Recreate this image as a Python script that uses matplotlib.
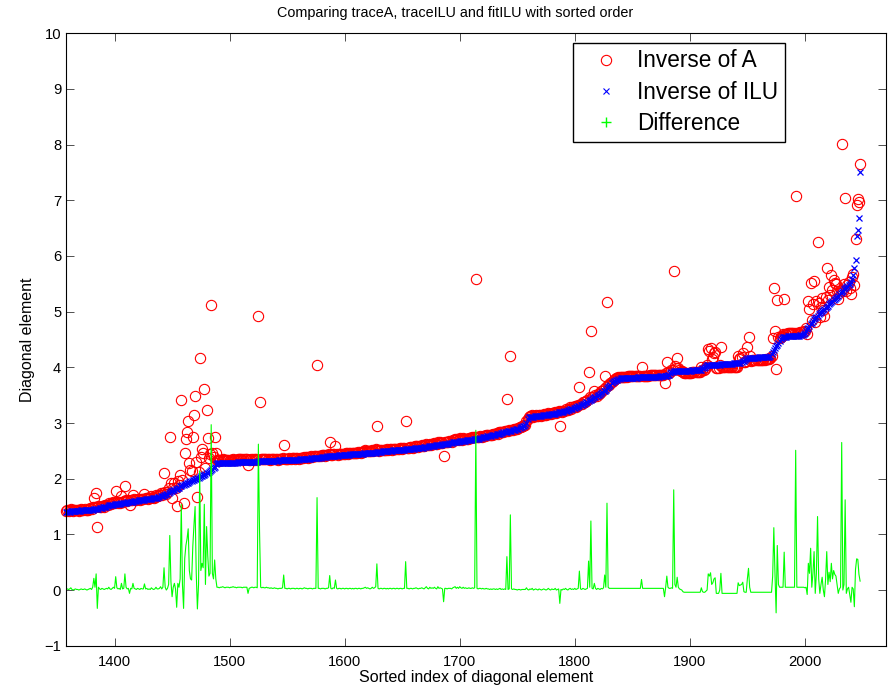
import numpy as np
import matplotlib
matplotlib.use('Agg')
import matplotlib.pyplot as plt
from matplotlib.lines import Line2D

plt.rcParams['font.family'] = ['Liberation Sans', 'DejaVu Sans']

# sorted index of the first diagonal element shown
first_index = 1358

# diagonal of inv(ILU), sorted, one value per index
inv_ilu = [
    1.41, 1.41, 1.41, 1.41, 1.42, 1.42, 1.42, 1.42, 1.42, 1.42,
    1.42, 1.42, 1.42, 1.43, 1.43, 1.43, 1.43, 1.43, 1.43, 1.43,
    1.44, 1.44, 1.44, 1.44, 1.45, 1.45, 1.45, 1.46, 1.46, 1.47,
    1.48, 1.48, 1.49, 1.49, 1.50, 1.50, 1.51, 1.52, 1.52, 1.53,
    1.53, 1.53, 1.54, 1.54, 1.54, 1.55, 1.55, 1.55, 1.56, 1.56,
    1.57, 1.57, 1.57, 1.58, 1.58, 1.58, 1.59, 1.59, 1.59, 1.60,
    1.60, 1.60, 1.60, 1.61, 1.61, 1.61, 1.62, 1.62, 1.62, 1.63,
    1.63, 1.63, 1.64, 1.64, 1.64, 1.65, 1.65, 1.65, 1.66, 1.66,
    1.67, 1.67, 1.68, 1.69, 1.69, 1.70, 1.71, 1.72, 1.73, 1.74,
    1.76, 1.77, 1.78, 1.79, 1.80, 1.81, 1.82, 1.83, 1.84, 1.86,
    1.87, 1.88, 1.89, 1.90, 1.91, 1.92, 1.93, 1.94, 1.95, 1.96,
    1.97, 1.98, 1.99, 2.00, 2.01, 2.02, 2.03, 2.04, 2.05, 2.06,
    2.07, 2.09, 2.10, 2.11, 2.12, 2.14, 2.15, 2.17, 2.19, 2.21,
    2.27, 2.28, 2.28, 2.28, 2.28, 2.28, 2.29, 2.29, 2.29, 2.29,
    2.29, 2.29, 2.29, 2.29, 2.29, 2.29, 2.29, 2.29, 2.29, 2.30,
    2.30, 2.30, 2.30, 2.30, 2.30, 2.30, 2.30, 2.30, 2.30, 2.30,
    2.30, 2.30, 2.30, 2.30, 2.30, 2.30, 2.30, 2.31, 2.31, 2.31,
    2.31, 2.31, 2.31, 2.31, 2.31, 2.31, 2.31, 2.31, 2.31, 2.32,
    2.32, 2.32, 2.32, 2.32, 2.32, 2.33, 2.33, 2.33, 2.33, 2.33,
    2.33, 2.33, 2.33, 2.33, 2.34, 2.34, 2.34, 2.34, 2.34, 2.34,
    2.34, 2.34, 2.34, 2.35, 2.35, 2.35, 2.35, 2.35, 2.36, 2.36,
    2.36, 2.36, 2.36, 2.37, 2.37, 2.37, 2.37, 2.38, 2.38, 2.38,
    2.38, 2.38, 2.39, 2.39, 2.39, 2.39, 2.39, 2.40, 2.40, 2.40,
    2.40, 2.40, 2.41, 2.41, 2.41, 2.41, 2.41, 2.42, 2.42, 2.42,
    2.42, 2.42, 2.43, 2.43, 2.43, 2.43, 2.43, 2.44, 2.44, 2.44,
    2.44, 2.44, 2.44, 2.45, 2.45, 2.45, 2.45, 2.45, 2.45, 2.46,
    2.46, 2.46, 2.46, 2.46, 2.47, 2.47, 2.47, 2.47, 2.47, 2.47,
    2.48, 2.48, 2.48, 2.48, 2.48, 2.49, 2.49, 2.49, 2.49, 2.50,
    2.50, 2.50, 2.50, 2.50, 2.51, 2.51, 2.51, 2.51, 2.51, 2.52,
    2.52, 2.52, 2.52, 2.52, 2.52, 2.53, 2.53, 2.53, 2.53, 2.54,
    2.54, 2.54, 2.54, 2.55, 2.55, 2.55, 2.55, 2.56, 2.56, 2.56,
    2.56, 2.57, 2.57, 2.57, 2.57, 2.58, 2.58, 2.58, 2.59, 2.59,
    2.59, 2.60, 2.60, 2.60, 2.61, 2.61, 2.61, 2.62, 2.62, 2.62,
    2.63, 2.63, 2.63, 2.64, 2.64, 2.64, 2.65, 2.65, 2.65, 2.66,
    2.66, 2.66, 2.67, 2.67, 2.67, 2.68, 2.68, 2.68, 2.69, 2.69,
    2.69, 2.70, 2.70, 2.70, 2.71, 2.71, 2.71, 2.72, 2.72, 2.72,
    2.73, 2.73, 2.74, 2.74, 2.75, 2.75, 2.76, 2.76, 2.77, 2.77,
    2.78, 2.78, 2.79, 2.79, 2.80, 2.80, 2.81, 2.81, 2.82, 2.82,
    2.83, 2.83, 2.84, 2.84, 2.85, 2.85, 2.86, 2.86, 2.87, 2.88,
    2.88, 2.89, 2.90, 2.90, 2.91, 2.92, 2.93, 2.94, 2.95, 2.96,
    3.00, 3.07, 3.10, 3.10, 3.11, 3.11, 3.11, 3.12, 3.12, 3.12,
    3.12, 3.13, 3.13, 3.13, 3.14, 3.14, 3.14, 3.15, 3.15, 3.15,
    3.16, 3.16, 3.16, 3.17, 3.17, 3.17, 3.18, 3.18, 3.19, 3.19,
    3.20, 3.20, 3.20, 3.21, 3.22, 3.22, 3.23, 3.24, 3.25, 3.25,
    3.26, 3.27, 3.27, 3.28, 3.29, 3.30, 3.31, 3.32, 3.33, 3.34,
    3.35, 3.36, 3.37, 3.38, 3.40, 3.41, 3.42, 3.43, 3.45, 3.46,
    3.47, 3.48, 3.50, 3.51, 3.53, 3.54, 3.55, 3.57, 3.58, 3.60,
    3.62, 3.64, 3.66, 3.68, 3.71, 3.73, 3.75, 3.76, 3.77, 3.78,
    3.79, 3.79, 3.80, 3.80, 3.80, 3.80, 3.80, 3.80, 3.81, 3.81,
    3.81, 3.81, 3.81, 3.81, 3.81, 3.81, 3.81, 3.82, 3.82, 3.82,
    3.82, 3.82, 3.82, 3.82, 3.82, 3.82, 3.82, 3.83, 3.83, 3.83,
    3.83, 3.83, 3.83, 3.83, 3.83, 3.83, 3.84, 3.84, 3.84, 3.84,
    3.84, 3.84, 3.85, 3.86, 3.87, 3.89, 3.91, 3.92, 3.93, 3.93,
    3.93, 3.93, 3.93, 3.93, 3.93, 3.94, 3.94, 3.94, 3.94, 3.94,
    3.94, 3.94, 3.94, 3.94, 3.95, 3.95, 3.95, 3.95, 3.95, 3.95,
    3.95, 3.95, 3.96, 3.98, 3.99, 4.01, 4.02, 4.04, 4.04, 4.04,
    4.04, 4.05, 4.05, 4.05, 4.05, 4.05, 4.05, 4.05, 4.05, 4.06,
    4.06, 4.06, 4.06, 4.06, 4.06, 4.06, 4.06, 4.06, 4.06, 4.06,
    4.07, 4.07, 4.07, 4.07, 4.07, 4.07, 4.08, 4.09, 4.11, 4.12,
    4.14, 4.15, 4.16, 4.16, 4.16, 4.16, 4.17, 4.17, 4.17, 4.17,
    4.17, 4.17, 4.18, 4.18, 4.18, 4.18, 4.18, 4.18, 4.19, 4.19,
    4.19, 4.19, 4.21, 4.24, 4.28, 4.31, 4.35, 4.38, 4.41, 4.44,
    4.47, 4.50, 4.52, 4.54, 4.55, 4.55, 4.55, 4.56, 4.56, 4.56,
    4.56, 4.56, 4.57, 4.57, 4.57, 4.57, 4.57, 4.57, 4.58, 4.58,
    4.58, 4.60, 4.62, 4.65, 4.68, 4.71, 4.74, 4.77, 4.80, 4.84,
    4.86, 4.88, 4.90, 4.93, 4.95, 4.97, 4.99, 5.01, 5.03, 5.05,
    5.07, 5.09, 5.11, 5.13, 5.15, 5.17, 5.19, 5.21, 5.23, 5.25,
    5.27, 5.29, 5.32, 5.34, 5.36, 5.38, 5.40, 5.42, 5.44, 5.46,
    5.48, 5.50, 5.53, 5.58, 5.65, 5.78, 5.93, 6.36, 6.47, 6.69,
    7.50,
]

# inv(A) minus inv(ILU) on the same indices
difference = [
    0.01, 0.02, 0.01, 0.02, 0.04, 0.01, 0.00, 0.01, 0.02, 0.01,
    0.01, 0.00, 0.01, 0.02, 0.01, 0.01, 0.02, 0.01, 0.00, 0.01,
    0.02, 0.03, 0.01, 0.05, 0.21, 0.05, 0.29, -0.33, 0.05, 0.02,
    0.01, 0.03, 0.02, 0.01, 0.02, 0.03, 0.02, 0.05, 0.02, 0.01,
    0.03, 0.05, 0.03, 0.24, 0.04, 0.02, 0.03, 0.01, 0.12, 0.02,
    0.03, 0.29, 0.05, 0.02, 0.03, -0.06, 0.03, 0.02, 0.12, 0.03,
    0.02, 0.01, 0.03, 0.02, 0.01, 0.03, 0.02, 0.02, 0.11, 0.02,
    0.03, 0.01, 0.02, 0.01, 0.04, 0.02, 0.01, 0.02, 0.05, 0.02,
    0.02, 0.03, 0.06, 0.02, 0.05, 0.40, 0.05, 0.00, 0.03, 0.10,
    0.98, 0.15, -0.12, 0.05, 0.12, 0.02, -0.31, 0.12, 0.05, 0.20,
    1.54, 0.10, -0.33, 0.57, 0.80, 0.92, 1.10, 0.35, 0.20, 0.18,
    0.78, 1.16, 1.50, 0.30, -0.34, 0.10, 2.14, 0.35, 0.48, 0.40,
    1.54, 0.10, 1.14, 0.62, 0.25, 0.30, 2.97, 0.30, 0.20, 0.54,
    0.20, 0.05, 0.05, 0.04, 0.05, 0.05, 0.06, 0.05, 0.04, 0.05,
    0.05, 0.05, 0.04, 0.05, 0.05, 0.06, 0.05, 0.05, 0.04, 0.05,
    0.05, 0.05, 0.05, 0.04, 0.05, 0.05, 0.05, 0.05, -0.06, 0.03,
    0.04, 0.05, 0.05, 0.04, 0.05, 0.05, 0.04, 2.62, 1.07, 0.05,
    0.04, 0.05, 0.04, 0.04, 0.05, 0.04, 0.04, 0.03, 0.04, 0.03,
    0.03, 0.04, 0.03, 0.03, 0.02, 0.03, 0.03, 0.03, 0.04, 0.27,
    0.03, 0.03, 0.02, 0.03, 0.03, 0.02, 0.03, 0.03, 0.03, 0.02,
    0.03, 0.03, 0.02, 0.03, 0.03, 0.02, 0.03, 0.04, 0.03, 0.03,
    0.02, 0.03, 0.03, 0.03, 0.02, 0.03, 0.03, 0.03, 1.66, 0.03,
    0.03, 0.02, 0.03, 0.03, 0.03, 0.02, 0.03, 0.03, 0.04, 0.26,
    0.03, 0.02, 0.04, 0.03, 0.18, 0.03, 0.02, 0.03, 0.03, 0.02,
    0.03, 0.03, 0.02, 0.03, 0.03, 0.02, 0.03, 0.03, 0.02, 0.03,
    0.02, 0.03, 0.03, 0.02, 0.03, 0.03, 0.02, 0.03, 0.03, 0.04,
    0.05, 0.03, 0.04, 0.03, 0.02, 0.03, 0.05, 0.03, 0.04, 0.06,
    0.47, 0.03, 0.02, 0.03, 0.03, 0.02, 0.03, 0.03, 0.02, 0.03,
    0.02, 0.03, 0.03, 0.02, 0.03, 0.03, 0.02, 0.03, 0.03, 0.02,
    0.03, 0.03, 0.02, 0.03, 0.03, 0.51, 0.03, 0.03, 0.02, 0.03,
    0.03, 0.02, 0.03, 0.03, 0.04, 0.03, 0.02, 0.03, 0.03, 0.04,
    0.03, 0.02, 0.04, 0.06, 0.03, 0.02, 0.05, 0.03, 0.04, 0.03,
    0.05, 0.03, 0.02, 0.06, 0.03, 0.04, 0.03, 0.02, -0.21, 0.03,
    0.03, 0.02, 0.03, 0.03, 0.03, 0.02, 0.04, 0.05, 0.06, 0.03,
    0.05, 0.03, 0.06, 0.04, 0.03, 0.05, 0.03, 0.04, 0.03, 0.03,
    0.04, 0.03, 0.03, 0.04, 0.03, 0.04, 2.87, 0.03, 0.02, 0.03,
    0.03, 0.02, 0.03, 0.02, 0.02, 0.03, 0.02, 0.02, 0.01, 0.02,
    0.01, 0.02, 0.02, 0.01, 0.02, 0.01, 0.02, 0.03, 0.01, 0.02,
    0.01, 0.02, 0.01, 0.60, 0.01, 0.02, 1.35, 0.02, 0.01, 0.02,
    0.01, 0.01, 0.00, 0.01, 0.01, 0.00, 0.01, 0.01, 0.01, 0.01,
    0.04, 0.01, 0.00, 0.02, 0.01, 0.03, 0.00, 0.01, 0.02, 0.01,
    0.00, 0.02, 0.01, 0.00, 0.01, 0.02, 0.01, 0.00, 0.01, 0.03,
    0.01, 0.00, 0.02, 0.01, 0.01, 0.03, 0.00, 0.01, 0.02, -0.24,
    0.01, 0.00, 0.02, 0.01, 0.03, 0.01, 0.00, 0.02, 0.03, 0.01,
    0.02, 0.01, 0.03, 0.01, 0.02, 0.03, 0.34, 0.02, 0.01, 0.03,
    0.02, 0.01, 0.02, 0.03, 0.52, 0.05, 1.24, 0.03, 0.02, 0.12,
    0.03, 0.01, 0.03, 0.02, 0.01, 0.03, 0.02, 0.04, 0.27, 0.05,
    1.56, 0.05, 0.03, 0.03, 0.03, 0.03, 0.03, 0.03, 0.03, 0.03,
    0.03, 0.03, 0.03, 0.03, 0.03, 0.03, 0.03, 0.03, 0.03, 0.03,
    0.03, 0.03, 0.03, 0.03, 0.03, 0.03, 0.03, 0.03, 0.03, 0.03,
    0.19, 0.03, 0.03, 0.03, 0.03, 0.03, 0.03, 0.03, 0.03, 0.03,
    0.03, 0.03, 0.03, 0.03, 0.03, 0.03, 0.03, 0.03, 0.03, 0.03,
    -0.12, 0.05, 0.25, 0.05, 0.03, 0.03, 0.04, 0.03, 1.80, 0.10,
    0.05, 0.23, 0.05, 0.02, 0.01, 0.00, -0.03, -0.04, -0.04, -0.04,
    -0.04, -0.04, -0.04, -0.04, -0.04, -0.04, -0.04, -0.04, -0.04, -0.04,
    -0.04, -0.04, 0.04, -0.03, -0.04, -0.04, -0.02, 0.00, 0.29, 0.25,
    0.31, 0.10, 0.13, 0.20, 0.22, -0.06, -0.06, -0.06, 0.00, 0.30,
    -0.06, -0.06, -0.06, -0.06, -0.06, -0.06, -0.06, -0.06, -0.06, -0.06,
    -0.06, -0.06, -0.06, -0.06, 0.13, 0.08, 0.09, 0.10, 0.14, -0.03,
    -0.04, -0.04, 0.20, 0.39, 0.05, -0.04, -0.04, -0.04, -0.04, -0.04,
    -0.04, -0.04, -0.04, -0.04, -0.04, -0.04, -0.04, -0.04, -0.04, -0.04,
    -0.04, -0.04, -0.04, -0.04, 0.25, 1.12, 0.30, -0.41, 0.80, 0.10,
    0.05, 0.05, 0.05, 0.05, 0.68, 0.05, 0.05, 0.05, 0.05, 0.05,
    0.05, 0.05, 0.05, 0.05, 2.51, 0.05, 0.05, 0.05, 0.05, 0.05,
    0.05, 0.05, 0.04, 0.05, -0.08, 0.48, 0.30, 0.75, 0.05, 0.30,
    0.69, -0.06, 0.30, 1.32, 0.20, -0.06, 0.10, 0.23, 0.00, -0.12,
    0.20, 0.69, 0.10, 0.32, 0.15, 0.48, 0.20, 0.35, 0.28, 0.25,
    0.10, -0.06, 0.02, 0.05, 2.65, 0.00, 0.10, 1.62, -0.06, 0.02,
    0.05, -0.08, -0.22, 0.05, 0.02, -0.30, 0.37, 0.56, 0.55, 0.28,
    0.16,
]

x_ticks = [1400, 1500, 1600, 1700, 1800, 1900, 2000]
y_ticks = list(range(-1, 11))

ilu = np.array(inv_ilu)
diff = np.array(difference)
inv_a = ilu + diff
idx = np.arange(first_index, first_index + len(ilu))

fig = plt.figure(figsize=(8.9, 6.89), dpi=100)
ax = fig.add_axes([66 / 890, 43.3 / 689, 820 / 890, 612.4 / 689])

ax.plot(idx, inv_a, ls='none', marker='o', ms=7.4, mfc='none', mec='#ff0000',
        mew=0.8, clip_on=False)
ax.plot(idx, ilu, ls='none', marker='x', ms=5.0, color='#0000ff', mew=0.9,
        clip_on=False)
ax.plot(idx, diff, color='#00ff00', lw=0.8)

ax.set_xlim(1357.8, 2070.5)
ax.set_ylim(-1, 10)
ax.set_xticks(x_ticks)
ax.set_yticks(y_ticks)
ax.tick_params(direction='in', top=True, right=True, length=6, width=0.6,
               labelsize=10.6, color='#333333')
ax.tick_params(axis='x', pad=6.5)
ax.tick_params(axis='y', pad=3.5)
for s in ax.spines.values():
    s.set_linewidth(0.8)

ax.set_xlabel('Sorted index of diagonal element', fontsize=11.5, labelpad=1)
ax.set_ylabel('Diagonal element', fontsize=11.5, labelpad=7)
fig.text(277 / 890, 1 - 13 / 689, 'Comparing traceA, traceILU and fitILU with sorted order',
         ha='left', va='center', fontsize=10.4)

handles = [
    Line2D([], [], ls='none', marker='o', ms=7.4, mfc='none', mec='#ff0000', mew=0.8),
    Line2D([], [], ls='none', marker='x', ms=5, color='#0000ff', mew=0.8),
    Line2D([], [], ls='none', marker='+', ms=7, color='#00ff00', mew=1.0),
]
leg = ax.legend(handles, ['Inverse of A', 'Inverse of ILU', 'Difference'],
                loc='upper left', bbox_to_anchor=(572.7 / 890, 1 - 42.7 / 689),
                bbox_transform=fig.transFigure, borderaxespad=0, fontsize=16.3,
                fancybox=False, framealpha=1, edgecolor='black',
                handlelength=2.35, handletextpad=0.2, labelspacing=0.36,
                borderpad=0.30)
leg.get_frame().set_linewidth(1.0)

fig.savefig('out.png', dpi=100)
